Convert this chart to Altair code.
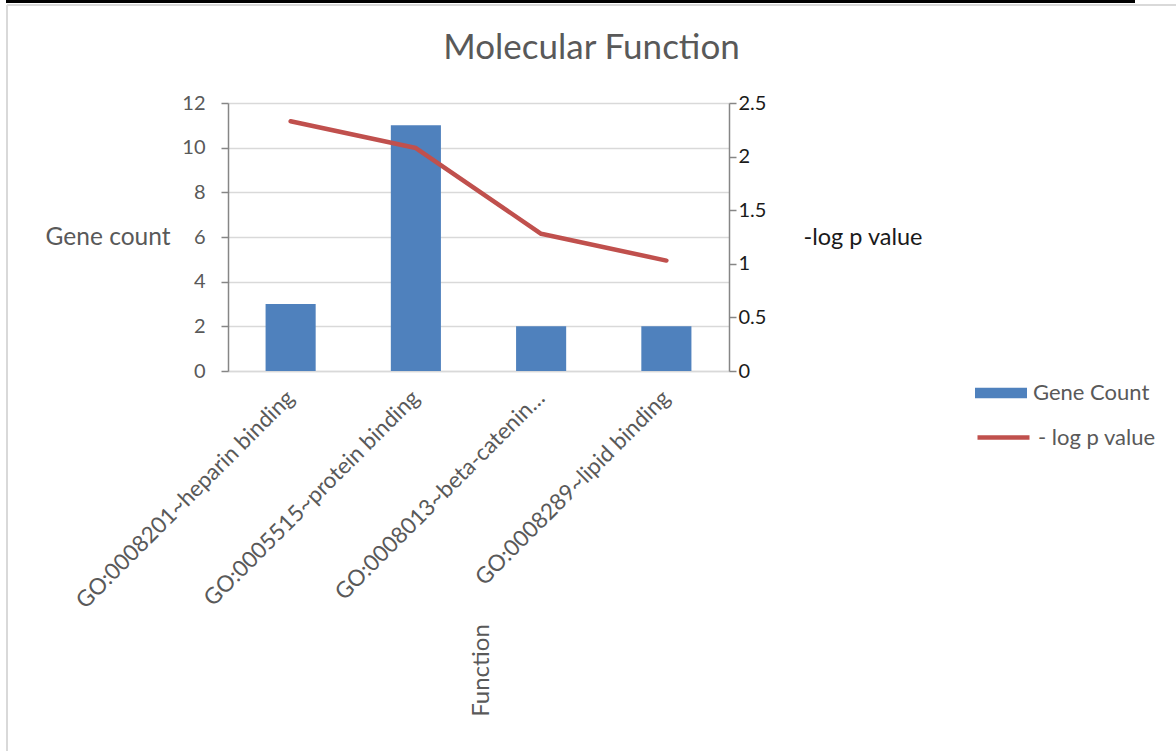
import altair as alt
import pandas as pd

# GO molecular-function terms with their gene counts and -log10 p values
functions = [
    "GO:0008201~heparin binding",
    "GO:0005515~protein binding",
    "GO:0008013~beta-catenin…",
    "GO:0008289~lipid binding",
]
gene_counts = [3, 11, 2, 2]
neg_log_p = [2.33, 2.08, 1.28, 1.03]

count_ticks = [0, 2, 4, 6, 8, 10, 12]
p_ticks = [0, 0.5, 1, 1.5, 2, 2.5]

df = pd.DataFrame({
    "function": functions,
    "count": gene_counts,
    "logp": neg_log_p,
    "bar_series": ["Gene Count"] * len(functions),
    "line_series": ["- log p value"] * len(functions),
})

FONT = "Lato"
TEXT = "#595959"
DARK = "#1a1a1a"
AXIS = "#868686"
GRID = "#D9D9D9"
BLUE = "#4F81BD"
RED = "#C0504D"

x_enc = alt.X(
    "function:N",
    sort=functions,
    scale=alt.Scale(paddingInner=0.6, paddingOuter=0.3),
    axis=alt.Axis(
        title="Function",
        titleAngle=270,
        titleX=253,
        titleY=299,
        titleAlign="center",
        titleBaseline="middle",
        titleFontSize=24,
        labelAngle=-45,
        labelAlign="right",
        labelBaseline="middle",
        labelPadding=23,
        labelFontSize=22.5,
        labelLimit=500,
        ticks=False,
        domainColor=GRID,
        domainWidth=1.5,
    ),
)

bars = alt.Chart(df).mark_bar(color=BLUE).encode(
    x=x_enc,
    y=alt.Y(
        "count:Q",
        scale=alt.Scale(domain=[0, 12], nice=False),
        axis=alt.Axis(
            values=count_ticks,
            title="Gene count",
            titleAngle=0,
            titleAlign="right",
            titleBaseline="middle",
            titleX=-58,
            titleY=134,
            titleFontSize=24.5,
            labelFontSize=20,
            labelPadding=16,
            tickSize=7,
            tickColor=AXIS,
            domainColor=AXIS,
            domainWidth=1.5,
            tickWidth=1.5,
            grid=True,
            gridColor=GRID,
            gridWidth=1.5,
        ),
    ),
    fill=alt.Fill(
        "bar_series:N",
        scale=alt.Scale(domain=["Gene Count"], range=[BLUE]),
        legend=alt.Legend(
            title=None,
            orient="none",
            legendX=747,
            legendY=264,
            symbolType="M-1,-0.2H1V0.2H-1Z",
            symbolSize=2704,
            symbolStrokeWidth=0,
            labelFontSize=22,
            labelOffset=6,
        ),
    ),
)

line = alt.Chart(df).mark_line(strokeWidth=4.5, strokeCap="round", strokeJoin="round").encode(
    x=x_enc,
    y=alt.Y(
        "logp:Q",
        scale=alt.Scale(domain=[0, 2.5], nice=False),
        axis=alt.Axis(
            orient="right",
            values=p_ticks,
            format="~g",
            title="-log p value",
            titleAngle=0,
            titleAlign="left",
            titleBaseline="middle",
            titleX=74,
            titleY=134,
            titleFontSize=23.5,
            titleColor=DARK,
            labelColor=DARK,
            labelFontSize=20,
            labelPadding=2,
            tickSize=7,
            tickColor=AXIS,
            tickWidth=1.5,
            domainColor=AXIS,
            domainWidth=1.5,
            grid=False,
        ),
    ),
    stroke=alt.Stroke(
        "line_series:N",
        scale=alt.Scale(domain=["- log p value"], range=[RED]),
        legend=alt.Legend(
            title=None,
            orient="none",
            legendX=747,
            legendY=306,
            symbolType="stroke",
            symbolSize=2704,
            symbolStrokeWidth=4.5,
            labelFontSize=22,
            labelOffset=6,
        ),
    ),
)

# Chart-area frame: sheet border line above, light grey outline left and top
frame_src = alt.Chart(pd.DataFrame({"k": [0]}))
sheet_line = frame_src.mark_rule(color="#000000", strokeWidth=3).encode(
    x=alt.value(-222), x2=alt.value(907), y=alt.value(-101.5)
)
frame_top = frame_src.mark_rule(color=GRID, strokeWidth=2).encode(
    x=alt.value(-221), x2=alt.value(948), y=alt.value(-98)
)
frame_left = frame_src.mark_rule(color=GRID, strokeWidth=2).encode(
    x=alt.value(-221), y=alt.value(-98), y2=alt.value(648)
)

chart = (
    alt.layer(bars, line, sheet_line, frame_top, frame_left)
    .resolve_scale(y="independent", fill="independent", stroke="independent")
    .properties(
        width=501,
        height=268,
        title=alt.TitleParams(
            "Molecular Function",
            anchor="middle",
            dx=113,
            dy=92,
            offset=26,
            fontSize=35,
            font=FONT,
            fontWeight="normal",
            color=TEXT,
        ),
        autosize=alt.AutoSizeParams(type="none"),
        padding={"left": 228, "top": 103, "right": 447, "bottom": 380},
    )
    .configure(font=FONT, background="white")
    .configure_view(stroke=None)
    .configure_axis(
        labelFont=FONT,
        titleFont=FONT,
        labelColor=TEXT,
        titleColor=TEXT,
        titleFontWeight="normal",
    )
    .configure_legend(labelFont=FONT, labelColor=TEXT)
)

chart.save("out.html", embed_options={"renderer": "svg", "actions": False})
